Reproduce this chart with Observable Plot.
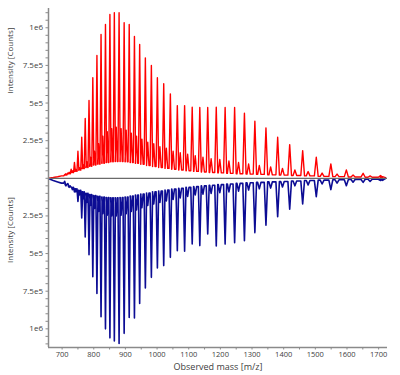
<!DOCTYPE html>
<html><head><meta charset="utf-8">
<script src="https://cdn.jsdelivr.net/npm/d3@7"></script>
<script src="https://cdn.jsdelivr.net/npm/@observablehq/plot@0.6"></script>
<style>
html,body{margin:0;padding:0;background:#fff;}
#chart{width:400px;height:375px;}
</style></head><body><div id="chart"></div>
<script>
// Peak positions (m/z) of the charge-state series
const mz = [708, 718, 728.5, 739, 750, 762, 773, 785, 797, 810,
  823, 837, 851, 865, 880, 896, 912, 928.5, 945, 963,
  982, 1001, 1021, 1042, 1064, 1087, 1111, 1135, 1160, 1187,
  1215, 1245, 1276, 1309, 1344, 1381, 1419, 1460, 1503, 1549,
  1598, 1651, 1706];

// Upper spectrum (red)
const redMain = [2.5e4, 3.5e4, 6e4, 1.06e5, 1.8e5, 2.73e5, 3.97e5, 5.17e5, 6.68e5, 8.16e5,
  9.55e5, 1.022e6, 1.088e6, 1.1e6, 1.1e6, 1.033e6, 1.022e6, 9.42e5, 8.89e5, 8.0e5,
  7.49e5, 6.68e5, 6.28e5, 5.61e5, 4.83e5, 4.83e5, 4.72e5, 4.7e5, 4.7e5, 4.72e5,
  4.7e5, 4.7e5, 4.32e5, 3.79e5, 3.35e5, 2.73e5, 2.24e5, 1.84e5, 1.4e5, 9.6e4,
  5.6e4, 3.3e4, 1.8e4];
const redAdduct = [3e4, 4e4, 5e4, 6e4, 7e4, 9e4, 1.1e5, 1.4e5, 1.8e5, 2.3e5,
  2.8e5, 3.1e5, 3.3e5, 3.4e5, 3.3e5, 3.2e5, 3.0e5, 2.8e5, 2.6e5, 2.4e5,
  2.3e5, 2.1e5, 2.0e5, 1.8e5, 1.7e5, 1.6e5, 1.5e5, 1.4e5, 1.3e5, 1.25e5,
  1.15e5, 1.05e5, 9.5e4, 8.5e4, 7.5e4, 6.5e4, 5.5e4, 4.5e4, 3.5e4, 2.8e4,
  2.2e4, 1.6e4, 1.1e4];
const redValley = [2.2e4, 3e4, 3.8e4, 4.6e4, 5.4e4, 6.4e4, 7.2e4, 8e4, 8.8e4, 9.4e4,
  1e5, 1.05e5, 1.1e5, 1.12e5, 1.12e5, 1.1e5, 1.05e5, 1e5, 9.3e4, 8.5e4,
  7.8e4, 7.2e4, 6.6e4, 6e4, 5.5e4, 5e4, 4.6e4, 4.2e4, 3.9e4, 3.6e4,
  3.3e4, 3e4, 2.8e4, 2.6e4, 2.3e4, 2.1e4, 1.9e4, 1.6e4, 1.3e4, 1.1e4,
  9e3, 7e3, 6e3];

// Lower (mirrored) spectrum (blue), magnitudes
const blueMain = [2e4, 3.5e4, 6e4, 9e4, 1.53e5, 2.63e5, 3.9e5, 5.07e5, 6.54e5, 7.65e5,
  9.2e5, 1.0e6, 1.06e6, 1.08e6, 1.097e6, 1.03e6, 9.24e5, 9.28e5, 8.31e5, 7.29e5,
  6.58e5, 5.96e5, 5.8e5, 5.25e5, 4.81e5, 4.85e5, 4.36e5, 4.47e5, 3.7e5, 4.5e5,
  4.37e5, 4.28e5, 4.14e5, 3.61e5, 3.11e5, 2.55e5, 2.05e5, 1.7e5, 1.22e5, 7.5e4,
  4.9e4, 2.7e4, 1.5e4];
const blueAdduct = [5e4, 6e4, 7.5e4, 9e4, 1.1e5, 1.35e5, 1.6e5, 1.8e5, 2e5, 2.2e5,
  2.35e5, 2.45e5, 2.5e5, 2.5e5, 2.45e5, 2.35e5, 2.2e5, 2.1e5, 1.95e5, 1.8e5,
  1.7e5, 1.6e5, 1.5e5, 1.4e5, 1.3e5, 1.2e5, 1.1e5, 1.05e5, 1e5, 9.5e4,
  9e4, 8.5e4, 7.8e4, 7e4, 6.5e4, 5.8e4, 5e4, 4.4e4, 3.8e4, 3.2e4,
  2.6e4, 2e4, 1.4e4];
const blueValley = [4e4, 5e4, 6e4, 7e4, 8e4, 9e4, 1e5, 1.08e5, 1.15e5, 1.2e5,
  1.25e5, 1.28e5, 1.3e5, 1.3e5, 1.28e5, 1.24e5, 1.18e5, 1.12e5, 1.05e5, 9.8e4,
  9e4, 8.4e4, 7.8e4, 7.2e4, 6.6e4, 6e4, 5.5e4, 5e4, 4.6e4, 4.2e4,
  3.8e4, 3.4e4, 3e4, 2.7e4, 2.4e4, 2.1e4, 1.8e4, 1.5e4, 1.2e4, 1e4,
  8e3, 6e3, 4e3];

// Baseline before the first and after the last peak
const leadMz = [658, 672, 686, 698];
const redLead = [1e3, 5e3, 1e4, 1.6e4];
const blueLead = [3e3, 1.4e4, 2.4e4, 3.2e4];
const tailMz = [1722];
const redTail = [4e3];
const blueTail = [2e3];

// Axis ticks
const xTicks = [700, 800, 900, 1000, 1100, 1200, 1300, 1400, 1500, 1600, 1700];
const xMinor = [700, 750, 800, 850, 900, 950, 1000, 1050, 1100, 1150, 1200, 1250, 1300, 1350, 1400, 1450, 1500, 1550, 1600, 1650, 1700];
const yTickValues = [2.5e5, 5e5, 7.5e5, 1e6];
const yTickLabels = ["2.5e5", "5e5", "7.5e5", "1e6"];
const xTitle = "Observed mass [m/z]";
const yTitle = "Intensity [Counts]";

const xDomain = [657, 1728];
const yDomain = [-1.124e6, 1.128e6];
const peakHalfWidth = 0.004;   // relative peak half-width
const adductPos = 0.4;         // adduct spike position within a gap

function buildTrace(main, adduct, valley, lead, tail, sign) {
  const pts = leadMz.map((m, i) => ({x: m, y: sign * lead[i]}));
  mz.forEach((m, i) => {
    const d = m * peakHalfWidth;
    const next = i + 1 < mz.length ? mz[i + 1] : tailMz[0];
    const before = i === 0 ? lead[lead.length - 1] : valley[i - 1];
    pts.push({x: m - d, y: sign * before});
    pts.push({x: m, y: sign * main[i]});
    pts.push({x: m + d, y: sign * valley[i]});
    const a = m + (next - m) * adductPos;
    pts.push({x: a - d, y: sign * valley[i]});
    pts.push({x: a, y: sign * adduct[i]});
    pts.push({x: a + d, y: sign * valley[i]});
  });
  tailMz.forEach((m, i) => pts.push({x: m, y: sign * tail[i]}));
  return pts;
}

const redPts = buildTrace(redMain, redAdduct, redValley, redLead, redTail, 1);
const bluePts = buildTrace(blueMain, blueAdduct, blueValley, blueLead, blueTail, -1);

const ySigned = [...yTickValues.map(v => -v), ...yTickValues];
const yMinor = d3.range(-1.1e6, 1.1e6 + 1, 5e4);
const axisColor = "#8a8a8a";
const labelColor = "#404040";

const chart = Plot.plot({
  width: 400,
  height: 375,
  marginLeft: 48,
  marginRight: 13,
  marginTop: 8,
  marginBottom: 28,
  style: {fontFamily: "'Open Sans', sans-serif", background: "#fff", color: labelColor},
  x: {domain: xDomain, axis: null},
  y: {domain: yDomain, axis: null},
  marks: [
    Plot.line(redPts, {x: "x", y: "y", stroke: "#ff0000", strokeWidth: 1.4}),
    Plot.line(bluePts, {x: "x", y: "y", stroke: "#0c0c94", strokeWidth: 1.6}),
    Plot.ruleY([0], {stroke: "#6a6a6a", strokeWidth: 1.3}),
    Plot.ruleX([xDomain[0]], {stroke: axisColor, strokeWidth: 1.5}),
    Plot.ruleY([yDomain[0]], {stroke: axisColor, strokeWidth: 1.5}),
    Plot.axisX(xMinor, {anchor: "bottom", label: null, tickSize: 2.5, tickFormat: () => "", stroke: axisColor}),
    Plot.axisX(xTicks, {anchor: "bottom", label: null, tickSize: 0, tickPadding: 4, fontSize: 7.5, fill: labelColor,
      tickFormat: d => String(d)}),
    Plot.axisY(yMinor, {anchor: "left", label: null, tickSize: 2.5, tickFormat: () => "", stroke: axisColor}),
    Plot.axisY(ySigned, {anchor: "left", label: null, tickSize: 0, tickPadding: 5.5, fontSize: 8, fill: labelColor,
      tickFormat: d => yTickLabels[yTickValues.indexOf(Math.abs(d))]}),
    Plot.text([yTitle, yTitle], {y: [yDomain[1] / 2, yDomain[0] / 2], frameAnchor: "left", dx: -38, rotate: -90, fontSize: 8, fill: labelColor}),
    Plot.text([xTitle], {frameAnchor: "bottom", dy: 22, fontSize: 9, fill: labelColor})
  ]
});
document.getElementById("chart").appendChild(chart);
</script>
</body></html>
